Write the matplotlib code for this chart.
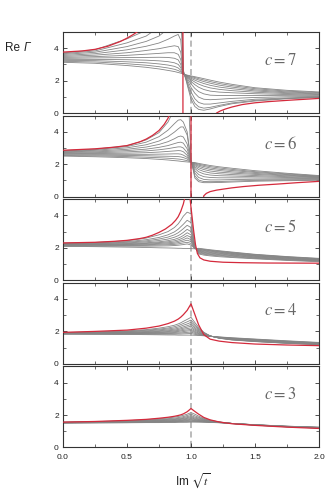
import numpy as np
import matplotlib
matplotlib.use('Agg')
import matplotlib.pyplot as plt
from matplotlib.ticker import MultipleLocator, FixedLocator, FormatStrFormatter

plt.rcParams['font.family'] = ['Liberation Sans', 'DejaVu Sans']

# shared sampling of Im sqrt(t) used for the grey families
X_GRID = [0.0, 0.25, 0.5, 0.65, 0.75, 0.82, 0.87, 0.9, 0.92, 0.94, 0.97,
          1.0, 1.03, 1.06, 1.1, 1.15, 1.22, 1.32, 1.5, 1.75, 2.0]

C_VALUES = [7, 6, 5, 4, 3]

GRAY_C7 = [
    [3.13, 3.07, 2.93, 2.82, 2.72, 2.63, 2.56, 2.5, 2.46, 2.4, 2.34, 2.29, 2.24, 2.19, 2.12, 2.03, 1.91, 1.77, 1.56, 1.4, 1.3],
    [3.19, 3.15, 3.04, 2.95, 2.86, 2.78, 2.7, 2.62, 2.54, 2.4, 2.32, 2.25, 2.19, 2.12, 2.04, 1.94, 1.82, 1.69, 1.5, 1.35, 1.26],
    [3.25, 3.23, 3.16, 3.1, 3.03, 2.96, 2.88, 2.78, 2.64, 2.41, 2.3, 2.2, 2.12, 2.04, 1.94, 1.84, 1.72, 1.6, 1.43, 1.3, 1.22],
    [3.31, 3.31, 3.29, 3.26, 3.22, 3.17, 3.1, 3.0, 2.8, 2.41, 2.27, 2.14, 2.03, 1.93, 1.82, 1.71, 1.6, 1.5, 1.36, 1.25, 1.18],
    [3.37, 3.4, 3.42, 3.43, 3.44, 3.43, 3.38, 3.28, 3.0, 2.42, 2.24, 2.06, 1.91, 1.78, 1.66, 1.55, 1.46, 1.38, 1.28, 1.2, 1.14],
    [3.43, 3.48, 3.56, 3.63, 3.68, 3.72, 3.72, 3.62, 3.3, 2.43, 2.2, 1.95, 1.75, 1.59, 1.45, 1.35, 1.29, 1.25, 1.19, 1.14, 1.1],
    [3.49, 3.57, 3.72, 3.86, 3.97, 4.08, 4.15, 4.1, 3.75, 2.45, 2.14, 1.8, 1.52, 1.32, 1.18, 1.1, 1.08, 1.08, 1.08, 1.07, 1.06],
    [3.55, 3.66, 3.9, 4.12, 4.32, 4.55, 4.75, 4.85, 4.5, 2.48, 2.05, 1.58, 1.22, 0.98, 0.85, 0.82, 0.85, 0.9, 0.96, 1.0, 1.02],
    [3.61, 3.75, 4.1, 4.42, 4.75, 5.2, 5.6, 6.0, 6.0, 2.52, 1.95, 1.3, 0.88, 0.65, 0.55, 0.55, 0.62, 0.72, 0.85, 0.93, 0.99],
    [3.66, 3.83, 4.33, 4.75, 5.3, 6.0, 7.0, 8.0, 9.0, 2.58, 1.85, 1.05, 0.6, 0.38, 0.3, 0.35, 0.47, 0.62, 0.78, 0.9, 0.97],
    [3.71, 3.9, 4.58, 5.1, 6.0, 7.0, 8.0, 9.0, 10.0, 2.65, 1.75, 0.85, 0.4, 0.22, 0.17, 0.25, 0.4, 0.57, 0.74, 0.88, 0.96],
]

GRAY_C6 = [
    [2.5, 2.46, 2.4, 2.35, 2.3, 2.26, 2.22, 2.2, 2.18, 2.16, 2.14, 2.12, 2.1, 2.05, 1.99, 1.92, 1.84, 1.75, 1.6, 1.44, 1.3],
    [2.54, 2.51, 2.47, 2.43, 2.4, 2.37, 2.34, 2.32, 2.3, 2.27, 2.22, 2.13, 2.07, 2.0, 1.93, 1.85, 1.77, 1.68, 1.54, 1.4, 1.27],
    [2.58, 2.56, 2.54, 2.52, 2.5, 2.49, 2.48, 2.47, 2.45, 2.41, 2.32, 2.14, 2.03, 1.94, 1.86, 1.77, 1.69, 1.61, 1.49, 1.36, 1.25],
    [2.62, 2.61, 2.61, 2.61, 2.62, 2.63, 2.64, 2.64, 2.62, 2.56, 2.42, 2.15, 1.98, 1.87, 1.77, 1.68, 1.61, 1.53, 1.43, 1.32, 1.22],
    [2.65, 2.66, 2.68, 2.71, 2.75, 2.79, 2.82, 2.84, 2.83, 2.77, 2.55, 2.16, 1.92, 1.78, 1.67, 1.58, 1.51, 1.45, 1.37, 1.28, 1.2],
    [2.69, 2.71, 2.76, 2.82, 2.89, 2.96, 3.03, 3.07, 3.07, 3.0, 2.72, 2.17, 1.84, 1.67, 1.55, 1.46, 1.41, 1.36, 1.3, 1.23, 1.17],
    [2.72, 2.76, 2.84, 2.93, 3.04, 3.15, 3.27, 3.34, 3.36, 3.3, 2.95, 2.18, 1.74, 1.53, 1.4, 1.33, 1.29, 1.27, 1.23, 1.18, 1.14],
    [2.76, 2.81, 2.92, 3.06, 3.22, 3.39, 3.57, 3.7, 3.74, 3.68, 3.25, 2.2, 1.6, 1.36, 1.23, 1.18, 1.16, 1.16, 1.15, 1.13, 1.11],
    [2.79, 2.86, 3.01, 3.2, 3.43, 3.7, 3.98, 4.18, 4.3, 4.3, 3.8, 2.22, 1.45, 1.18, 1.06, 1.03, 1.03, 1.05, 1.07, 1.07, 1.07],
    [2.82, 2.9, 3.09, 3.36, 3.7, 4.1, 4.5, 4.72, 4.75, 4.6, 4.0, 2.25, 1.28, 1.02, 0.93, 0.92, 0.93, 0.96, 1.0, 1.02, 1.04],
    [2.84, 2.93, 3.14, 3.5, 3.95, 4.6, 5.4, 6.2, 7.0, 8.0, 8.0, 2.3, 1.15, 0.92, 0.86, 0.86, 0.87, 0.9, 0.95, 0.98, 1.01],
]

GRAY_C5 = [
    [2.09, 2.07, 2.04, 2.02, 2.0, 1.99, 1.98, 1.97, 1.97, 1.96, 1.96, 1.95, 1.94, 1.97, 1.93, 1.88, 1.82, 1.74, 1.6, 1.46, 1.35],
    [2.11, 2.1, 2.1, 2.1, 2.11, 2.12, 2.14, 2.16, 2.18, 2.2, 2.24, 2.17, 1.95, 1.94, 1.9, 1.85, 1.79, 1.71, 1.58, 1.44, 1.33],
    [2.13, 2.13, 2.14, 2.15, 2.17, 2.19, 2.21, 2.24, 2.27, 2.3, 2.34, 2.27, 1.96, 1.91, 1.87, 1.82, 1.76, 1.68, 1.55, 1.42, 1.31],
    [2.15, 2.16, 2.17, 2.19, 2.22, 2.25, 2.28, 2.32, 2.36, 2.4, 2.47, 2.38, 1.97, 1.88, 1.84, 1.79, 1.73, 1.65, 1.52, 1.4, 1.29],
    [2.17, 2.18, 2.2, 2.23, 2.27, 2.31, 2.35, 2.4, 2.45, 2.5, 2.61, 2.5, 1.98, 1.85, 1.8, 1.75, 1.69, 1.62, 1.5, 1.37, 1.27],
    [2.19, 2.2, 2.23, 2.27, 2.32, 2.37, 2.43, 2.49, 2.55, 2.62, 2.76, 2.64, 1.99, 1.82, 1.76, 1.71, 1.66, 1.59, 1.47, 1.35, 1.25],
    [2.21, 2.22, 2.26, 2.31, 2.37, 2.44, 2.52, 2.6, 2.67, 2.76, 2.93, 2.8, 2.0, 1.79, 1.72, 1.67, 1.62, 1.55, 1.44, 1.32, 1.23],
    [2.23, 2.25, 2.3, 2.37, 2.45, 2.54, 2.65, 2.75, 2.84, 2.95, 3.14, 3.0, 2.02, 1.75, 1.68, 1.63, 1.58, 1.52, 1.41, 1.3, 1.21],
    [2.25, 2.27, 2.34, 2.43, 2.54, 2.66, 2.8, 2.93, 3.05, 3.18, 3.39, 3.25, 2.04, 1.71, 1.64, 1.59, 1.54, 1.48, 1.38, 1.27, 1.19],
    [2.27, 2.3, 2.38, 2.5, 2.64, 2.8, 2.98, 3.15, 3.3, 3.45, 3.7, 3.55, 2.06, 1.67, 1.6, 1.55, 1.5, 1.44, 1.35, 1.25, 1.17],
    [2.29, 2.33, 2.43, 2.6, 2.8, 3.0, 3.25, 3.48, 3.7, 3.95, 4.2, 4.1, 2.1, 1.62, 1.55, 1.5, 1.45, 1.4, 1.32, 1.22, 1.14],
]

GRAY_C4 = [
    [1.83, 1.82, 1.81, 1.8, 1.79, 1.78, 1.78, 1.77, 1.77, 1.77, 1.77, 1.77, 1.76, 1.75, 1.73, 1.7, 1.66, 1.61, 1.53, 1.42, 1.32],
    [1.84, 1.84, 1.83, 1.83, 1.83, 1.83, 1.83, 1.84, 1.84, 1.85, 1.86, 1.87, 1.82, 1.78, 1.74, 1.7, 1.65, 1.59, 1.51, 1.4, 1.3],
    [1.85, 1.85, 1.85, 1.86, 1.86, 1.87, 1.88, 1.89, 1.9, 1.92, 1.94, 1.96, 1.88, 1.82, 1.76, 1.7, 1.64, 1.57, 1.49, 1.38, 1.28],
    [1.86, 1.86, 1.87, 1.88, 1.89, 1.91, 1.93, 1.95, 1.96, 1.99, 2.02, 2.05, 1.94, 1.86, 1.78, 1.7, 1.63, 1.56, 1.47, 1.36, 1.26],
    [1.87, 1.88, 1.89, 1.91, 1.93, 1.95, 1.98, 2.0, 2.03, 2.06, 2.09, 2.13, 2.0, 1.9, 1.8, 1.71, 1.62, 1.54, 1.45, 1.34, 1.25],
    [1.88, 1.89, 1.91, 1.93, 1.96, 1.99, 2.03, 2.06, 2.09, 2.13, 2.17, 2.22, 2.07, 1.95, 1.82, 1.71, 1.61, 1.53, 1.44, 1.32, 1.23],
    [1.89, 1.9, 1.93, 1.96, 2.0, 2.04, 2.08, 2.12, 2.16, 2.2, 2.26, 2.32, 2.14, 2.0, 1.84, 1.71, 1.6, 1.51, 1.42, 1.31, 1.22],
    [1.9, 1.92, 1.95, 1.99, 2.04, 2.09, 2.14, 2.19, 2.23, 2.28, 2.35, 2.43, 2.22, 2.05, 1.87, 1.72, 1.6, 1.5, 1.41, 1.29, 1.21],
    [1.91, 1.93, 1.98, 2.03, 2.09, 2.15, 2.21, 2.27, 2.32, 2.38, 2.46, 2.56, 2.31, 2.11, 1.9, 1.72, 1.59, 1.49, 1.39, 1.28, 1.2],
    [1.92, 1.95, 2.0, 2.07, 2.14, 2.21, 2.29, 2.36, 2.42, 2.49, 2.59, 2.7, 2.42, 2.17, 1.92, 1.72, 1.58, 1.48, 1.38, 1.27, 1.19],
    [1.93, 1.97, 2.03, 2.11, 2.2, 2.29, 2.38, 2.46, 2.53, 2.62, 2.74, 2.87, 2.55, 2.25, 1.95, 1.72, 1.58, 1.47, 1.37, 1.26, 1.18],
]

GRAY_C3 = [
    [1.5, 1.51, 1.52, 1.53, 1.53, 1.54, 1.54, 1.55, 1.55, 1.55, 1.55, 1.56, 1.56, 1.56, 1.55, 1.54, 1.52, 1.48, 1.4, 1.31, 1.25],
    [1.51, 1.52, 1.53, 1.54, 1.55, 1.56, 1.56, 1.57, 1.58, 1.58, 1.59, 1.6, 1.59, 1.58, 1.57, 1.55, 1.53, 1.48, 1.4, 1.31, 1.24],
    [1.51, 1.53, 1.55, 1.56, 1.57, 1.58, 1.59, 1.6, 1.6, 1.61, 1.62, 1.64, 1.62, 1.6, 1.59, 1.56, 1.53, 1.48, 1.4, 1.3, 1.24],
    [1.52, 1.54, 1.56, 1.58, 1.59, 1.6, 1.61, 1.62, 1.63, 1.64, 1.66, 1.68, 1.65, 1.63, 1.61, 1.57, 1.54, 1.48, 1.39, 1.3, 1.23],
    [1.52, 1.55, 1.57, 1.59, 1.61, 1.62, 1.63, 1.65, 1.66, 1.67, 1.7, 1.73, 1.68, 1.66, 1.63, 1.58, 1.54, 1.48, 1.39, 1.29, 1.23],
    [1.53, 1.55, 1.58, 1.61, 1.63, 1.64, 1.66, 1.68, 1.69, 1.71, 1.74, 1.78, 1.72, 1.69, 1.65, 1.6, 1.55, 1.48, 1.39, 1.29, 1.22],
    [1.54, 1.56, 1.59, 1.62, 1.65, 1.67, 1.69, 1.71, 1.73, 1.75, 1.79, 1.83, 1.76, 1.72, 1.67, 1.61, 1.55, 1.48, 1.38, 1.29, 1.22],
    [1.54, 1.57, 1.6, 1.64, 1.67, 1.7, 1.72, 1.75, 1.77, 1.79, 1.84, 1.89, 1.81, 1.76, 1.7, 1.62, 1.56, 1.48, 1.38, 1.28, 1.21],
    [1.55, 1.57, 1.61, 1.66, 1.7, 1.73, 1.76, 1.79, 1.81, 1.84, 1.9, 1.96, 1.87, 1.81, 1.73, 1.64, 1.56, 1.47, 1.38, 1.28, 1.2],
    [1.55, 1.58, 1.63, 1.68, 1.73, 1.77, 1.81, 1.84, 1.87, 1.9, 1.97, 2.05, 1.95, 1.86, 1.76, 1.66, 1.57, 1.47, 1.37, 1.27, 1.2],
    [1.56, 1.59, 1.65, 1.71, 1.77, 1.82, 1.87, 1.91, 1.94, 1.98, 2.05, 2.15, 2.05, 1.93, 1.8, 1.68, 1.57, 1.47, 1.37, 1.27, 1.19],
]

# red envelope curves (nan splits the branches)
nan = float('nan')
RED_C7_X = [0.0, 0.15, 0.25, 0.35, 0.45, 0.5, 0.55, 0.6, 0.64, nan,
            0.937, 0.937, nan,
            1.185, 1.2, 1.23, 1.27, 1.32, 1.4, 1.5, 1.6, 1.77, 2.0]
RED_C7_Y = [3.76, 3.83, 3.93, 4.12, 4.42, 4.62, 4.85, 5.12, 5.45, nan,
            -1.0, 6.0, nan,
            -0.15, 0.0, 0.13, 0.25, 0.37, 0.52, 0.63, 0.7, 0.79, 0.9]
RED_C6_X = [0.0, 0.25, 0.4, 0.5, 0.6, 0.65, 0.7, 0.75, 0.79, 0.82, 0.85, nan,
            1.0, 1.0, nan,
            1.095, 1.1, 1.12, 1.15, 1.2, 1.25, 1.32, 1.41, 1.53, 1.67, 1.83, 2.0]
RED_C6_Y = [2.86, 2.95, 3.05, 3.15, 3.38, 3.55, 3.78, 4.08, 4.45, 4.83, 5.4, nan,
            -1.0, 6.0, nan,
            -0.2, 0.05, 0.2, 0.31, 0.4, 0.46, 0.54, 0.62, 0.7, 0.77, 0.86, 0.94]
RED_C5_X = [0.0, 0.25, 0.4, 0.5, 0.6, 0.65, 0.7, 0.75, 0.8, 0.85, 0.88, 0.9,
            0.92, 0.94, 0.955, 0.965, nan,
            0.985, 1.0, 1.02, 1.035, 1.05, 1.07, 1.1, 1.15, 1.25, 1.4, 1.6, 2.0]
RED_C5_Y = [2.3, 2.34, 2.4, 2.46, 2.57, 2.65, 2.78, 2.95, 3.16, 3.45, 3.7, 3.92,
            4.25, 4.7, 5.2, 5.6, nan,
            5.6, 4.5, 3.1, 2.2, 1.65, 1.38, 1.25, 1.17, 1.11, 1.08, 1.06, 1.05]
RED_C4_Y = [1.94, 2.0, 2.08, 2.2, 2.33, 2.48, 2.63, 2.76, 2.88, 3.03, 3.3,
            3.7, 3.05, 2.4, 1.8, 1.52, 1.4, 1.31, 1.22, 1.16, 1.12]
RED_C3_Y = [1.56, 1.6, 1.67, 1.73, 1.8, 1.86, 1.92, 1.97, 2.01, 2.07, 2.2,
            2.4, 2.22, 2.05, 1.85, 1.7, 1.57, 1.46, 1.36, 1.25, 1.17]

panels = [
    (GRAY_C7, RED_C7_X, RED_C7_Y),
    (GRAY_C6, RED_C6_X, RED_C6_Y),
    (GRAY_C5, RED_C5_X, RED_C5_Y),
    (GRAY_C4, X_GRID, RED_C4_Y),
    (GRAY_C3, X_GRID, RED_C3_Y),
]

W, H = 332, 491
fig = plt.figure(figsize=(W / 100, H / 100), dpi=100)

red = '#d42a3c'
for i, (c, (gray, rx, ry)) in enumerate(zip(C_VALUES, panels)):
    top = 32 + i * 83.6
    ax = fig.add_axes([63 / W, 1 - (top + 81) / H, 256 / W, 81 / H])
    ax.axvline(1.0, color='#a8a8a8', lw=1.1, ls=(0, (4, 2.2)), zorder=1)
    for row in gray:
        ax.plot(X_GRID, row, color='#858585', lw=0.6, zorder=2)
    ax.plot(rx, ry, color=red, lw=0.9, zorder=3)
    ax.set_xlim(0, 2)
    ax.set_ylim(0, 5)
    ax.xaxis.set_major_locator(MultipleLocator(0.5))
    ax.xaxis.set_minor_locator(MultipleLocator(0.25))
    ax.xaxis.set_major_formatter(FormatStrFormatter('%.1f'))
    ax.yaxis.set_major_locator(FixedLocator([0, 2, 4]))
    ax.yaxis.set_minor_locator(FixedLocator([1, 3]))
    ax.tick_params(which='both', direction='in', top=True, right=True,
                   labelsize=6, color='#333333', labelcolor='#222222')
    ax.tick_params(axis='y', pad=3)
    ax.tick_params(axis='x', pad=5)
    ax.tick_params(which='major', length=2.6, width=0.6)
    ax.tick_params(which='minor', length=2.0, width=0.5)
    for sp in ax.spines.values():
        sp.set_linewidth(0.8)
        sp.set_color('#333333')
    if i < len(C_VALUES) - 1:
        ax.tick_params(labelbottom=False)
    ax.text(0.85, 0.66, r'$c = %d$' % c, transform=ax.transAxes,
            ha='center', va='center', fontsize=12, color='#666666',
            math_fontfamily='stix')

fig.text(5 / W, 1 - 48 / H, 'Re', ha='left', va='center',
         fontsize=8.5, color='#222222')
fig.text(24 / W, 1 - 48 / H, '\u0393', ha='left', va='center',
         fontsize=8.5, color='#222222', fontstyle='italic')
fig.text(193 / W, 1 - 481 / H, r'Im $\sqrt{t}$', ha='center', va='center',
         fontsize=8.5, color='#222222', math_fontfamily='stix')

fig.savefig('out.png', dpi=100)
